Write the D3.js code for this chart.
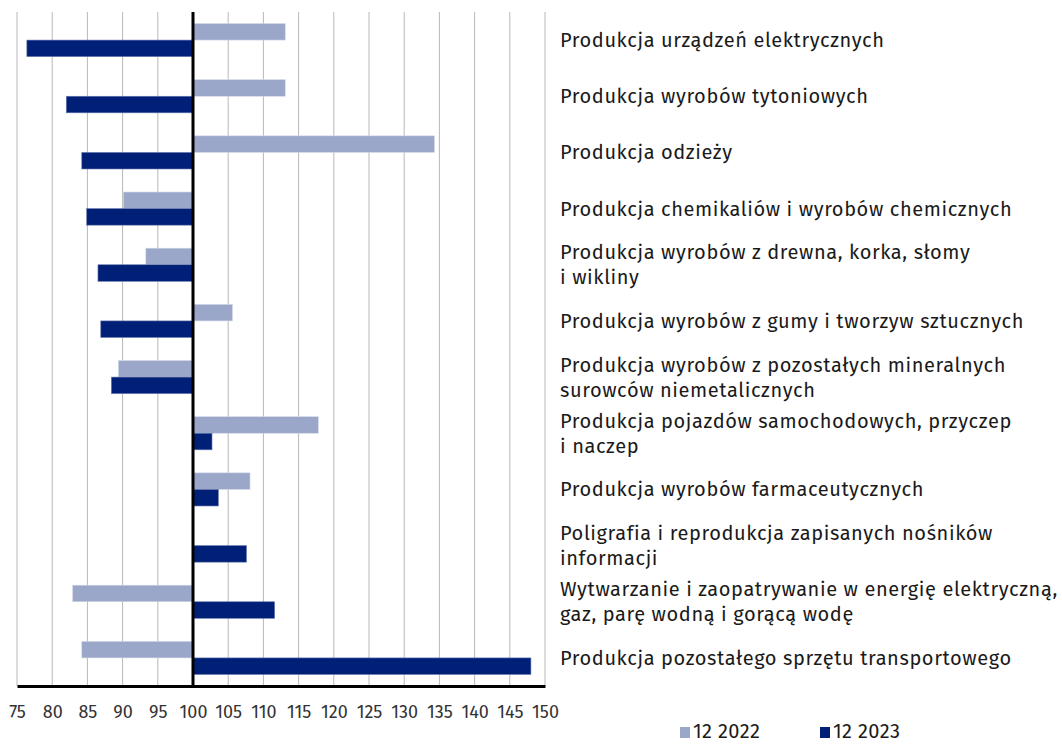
<!DOCTYPE html>
<html>
<head>
<meta charset="utf-8">
<script src="https://cdn.jsdelivr.net/npm/d3@7"></script>
<style>
  html, body { margin: 0; padding: 0; background: #fff; overflow: hidden; }
  svg { display: block; font-family: "Fira Sans", "Noto Sans", sans-serif; }
</style>
</head>
<body>
<div id="chart"></div>
<script>
// categories top to bottom (each entry = label lines)
const categories = [
  ["Produkcja urządzeń elektrycznych"],
  ["Produkcja wyrobów tytoniowych"],
  ["Produkcja odzieży"],
  ["Produkcja chemikaliów i wyrobów chemicznych"],
  ["Produkcja wyrobów z drewna, korka, słomy", "i wikliny"],
  ["Produkcja wyrobów z gumy i tworzyw sztucznych"],
  ["Produkcja wyrobów z pozostałych mineralnych", "surowców niemetalicznych"],
  ["Produkcja pojazdów samochodowych, przyczep", "i naczep"],
  ["Produkcja wyrobów farmaceutycznych"],
  ["Poligrafia i reprodukcja zapisanych nośników", "informacji"],
  ["Wytwarzanie i zaopatrywanie w energię elektryczną,", "gaz, parę wodną i gorącą wodę"],
  ["Produkcja pozostałego sprzętu transportowego"]
];
const values2022 = [113.1, 113.1, 134.3, 90.1, 93.3, 105.6, 89.4, 117.8, 108.1, null, 82.9, 84.2];
const values2023 = [76.4, 82.0, 84.2, 84.9, 86.5, 86.9, 88.4, 102.7, 103.6, 107.6, 111.6, 148.0];
const seriesNames = ["12 2022", "12 2023"];
const xTicks = [75, 80, 85, 90, 95, 100, 105, 110, 115, 120, 125, 130, 135, 140, 145, 150];

const W = 1062, H = 744;
const colors = ["#9aa7c9", "#001f77"];

const svg = d3.select("#chart").append("svg")
    .attr("width", W).attr("height", H);

const x = d3.scaleLinear().domain([75, 150]).range([17, 545]);
const y = d3.scaleBand()
    .domain(d3.range(categories.length))
    .range([12, 686])
    .paddingInner(0.41)
    .paddingOuter(0.205);
const ySub = d3.scaleBand().domain([0, 1]).range([0, y.bandwidth()]);

// gridlines
svg.append("g")
  .selectAll("line")
  .data(xTicks)
  .join("line")
    .attr("x1", d => x(d)).attr("x2", d => x(d))
    .attr("y1", 12).attr("y2", 686)
    .attr("stroke", "#b8b8b8")
    .attr("stroke-width", 1);

// bars
const series = [values2022, values2023];
series.forEach((vals, s) => {
  svg.append("g")
    .selectAll("rect")
    .data(vals.map((v, i) => ({ v, i })).filter(d => d.v != null))
    .join("rect")
      .attr("x", d => x(Math.min(100, d.v)))
      .attr("width", d => Math.abs(x(d.v) - x(100)))
      .attr("y", d => y(d.i) + ySub(s))
      .attr("height", ySub.bandwidth())
      .attr("fill", colors[s])
      .attr("stroke", s === 0 ? "#d3d9e8" : "#6a7bb0")
      .attr("stroke-width", 0.6);
});

// x axis
const xAxis = svg.append("g")
    .attr("transform", "translate(0,686)")
    .call(d3.axisBottom(x).tickValues(xTicks).tickSize(0).tickPadding(19));
xAxis.select(".domain").attr("stroke", "#000").attr("stroke-width", 3);
xAxis.selectAll("text")
    .attr("font-size", 18)
    .attr("fill", "#333")
    .attr("font-family", "'Fira Sans', 'Noto Sans', sans-serif");

// value axis at 100
svg.append("line")
    .attr("x1", x(100)).attr("x2", x(100))
    .attr("y1", 12).attr("y2", 687)
    .attr("stroke", "#000").attr("stroke-width", 3);

// category labels
const lab = svg.append("g")
  .selectAll("text")
  .data(categories)
  .join("text")
    .attr("x", 560)
    .attr("y", (d, i) => y(i) + y.bandwidth() / 2)
    .attr("font-size", 20)
    .attr("letter-spacing", 0.6)
    .attr("fill", "#1a1a1a");
lab.selectAll("tspan")
  .data(d => d.map((t, k) => ({ t, k, n: d.length })))
  .join("tspan")
    .attr("x", 560)
    .attr("dy", d => d.k === 0 ? ((-(d.n - 1) * 25) / 2 + 7) + "px" : "25px")
    .text(d => d.t);

// legend
const legend = svg.append("g");
const legX = [680, 820];
seriesNames.forEach((name, s) => {
  legend.append("rect")
    .attr("x", legX[s]).attr("y", 727)
    .attr("width", 10).attr("height", 11)
    .attr("fill", colors[s]);
  legend.append("text")
    .attr("x", legX[s] + 13).attr("y", 738)
    .attr("font-size", 20)
    .attr("letter-spacing", 0.4)
    .attr("fill", "#1a1a1a")
    .text(name);
});
</script>
</body>
</html>
